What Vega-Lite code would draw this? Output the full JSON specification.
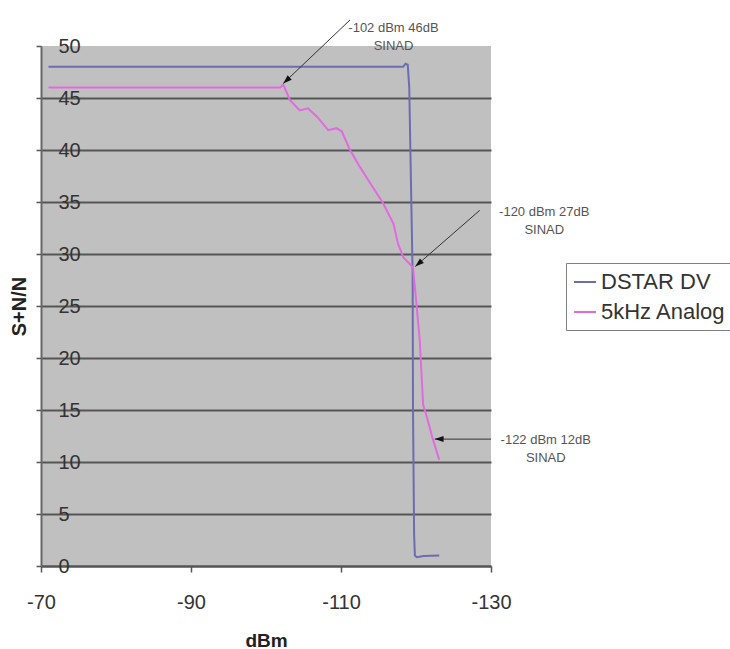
{
  "$schema": "https://vega.github.io/schema/vega-lite/v6.json",
  "width": 450,
  "height": 520,
  "autosize": {"type": "none"},
  "padding": {"left": 41, "top": 46, "right": 239, "bottom": 83},
  "background": "white",
  "config": {
    "font": "Liberation Sans",
    "view": {"fill": "#c0c0c0", "stroke": null}
  },
  "datasets": {
    "curves": [
      {"series": "DSTAR DV", "dBm": -71.0, "snn": 48.0},
      {"series": "DSTAR DV", "dBm": -118.3, "snn": 48.0},
      {"series": "DSTAR DV", "dBm": -118.6, "snn": 48.3},
      {"series": "DSTAR DV", "dBm": -118.9, "snn": 48.2},
      {"series": "DSTAR DV", "dBm": -119.1, "snn": 46.0},
      {"series": "DSTAR DV", "dBm": -119.35, "snn": 36.0},
      {"series": "DSTAR DV", "dBm": -119.55, "snn": 28.0},
      {"series": "DSTAR DV", "dBm": -119.6, "snn": 15.0},
      {"series": "DSTAR DV", "dBm": -119.75, "snn": 3.0},
      {"series": "DSTAR DV", "dBm": -119.85, "snn": 1.0},
      {"series": "DSTAR DV", "dBm": -120.1, "snn": 0.85},
      {"series": "DSTAR DV", "dBm": -121.0, "snn": 0.95},
      {"series": "DSTAR DV", "dBm": -123.1, "snn": 1.0},
      {"series": "5kHz Analog", "dBm": -71.0, "snn": 46.0},
      {"series": "5kHz Analog", "dBm": -101.9, "snn": 46.0},
      {"series": "5kHz Analog", "dBm": -102.3, "snn": 46.3},
      {"series": "5kHz Analog", "dBm": -103.2, "snn": 44.8},
      {"series": "5kHz Analog", "dBm": -104.5, "snn": 43.8},
      {"series": "5kHz Analog", "dBm": -105.6, "snn": 44.0},
      {"series": "5kHz Analog", "dBm": -106.8, "snn": 43.2},
      {"series": "5kHz Analog", "dBm": -108.3, "snn": 41.9},
      {"series": "5kHz Analog", "dBm": -109.4, "snn": 42.1},
      {"series": "5kHz Analog", "dBm": -110.1, "snn": 41.8},
      {"series": "5kHz Analog", "dBm": -111.2, "snn": 40.0},
      {"series": "5kHz Analog", "dBm": -112.5, "snn": 38.4},
      {"series": "5kHz Analog", "dBm": -113.9, "snn": 36.8},
      {"series": "5kHz Analog", "dBm": -115.6, "snn": 34.9},
      {"series": "5kHz Analog", "dBm": -117.0, "snn": 32.9},
      {"series": "5kHz Analog", "dBm": -117.6, "snn": 31.0},
      {"series": "5kHz Analog", "dBm": -118.3, "snn": 29.7},
      {"series": "5kHz Analog", "dBm": -119.6, "snn": 28.7},
      {"series": "5kHz Analog", "dBm": -120.1, "snn": 24.9},
      {"series": "5kHz Analog", "dBm": -120.5, "snn": 21.7},
      {"series": "5kHz Analog", "dBm": -120.8, "snn": 17.6},
      {"series": "5kHz Analog", "dBm": -120.95, "snn": 15.5},
      {"series": "5kHz Analog", "dBm": -121.5, "snn": 14.2},
      {"series": "5kHz Analog", "dBm": -122.2, "snn": 12.3},
      {"series": "5kHz Analog", "dBm": -123.1, "snn": 10.2}
    ],
    "notes": [
      {"id": 1, "label": "-102 dBm 46dB\nSINAD", "textX": -117.0, "textY": 51.7, "tailX": -111.2, "tailY": 52.5, "tipX": -102.3, "tipY": 46.4},
      {"id": 2, "label": "-120 dBm 27dB\nSINAD", "textX": -137.1, "textY": 34.0, "tailX": -128.5, "tailY": 34.2, "tipX": -119.9, "tipY": 28.8},
      {"id": 3, "label": "-122 dBm 12dB\nSINAD", "textX": -137.3, "textY": 12.1, "tailX": -130.0, "tailY": 12.2, "tipX": -122.5, "tipY": 12.2}
    ]
  },
  "layer": [
    {
      "data": {"name": "curves"},
      "mark": {"type": "line", "strokeWidth": 2},
      "encoding": {
        "x": {
          "field": "dBm", "type": "quantitative",
          "scale": {"domain": [-70, -130], "nice": false, "zero": false},
          "axis": {
            "title": "dBm", "values": [-70, -90, -110, -130], "grid": false,
            "labelExpr": "'' + datum.value",
            "domainColor": "#555", "domainWidth": 2,
            "tickColor": "#555", "tickWidth": 1.5, "tickSize": 6,
            "labelFontSize": 20, "labelColor": "#333", "labelPadding": 20,
            "labelFlush": false, "labelOverlap": false,
            "titleFontSize": 19, "titleFontWeight": "bold", "titleColor": "#222",
            "titleX": 225, "titleY": 74, "titleBaseline": "middle", "titleAlign": "center"
          }
        },
        "y": {
          "field": "snn", "type": "quantitative",
          "scale": {"domain": [0, 50], "nice": false, "zero": false},
          "axis": {
            "title": "S+N/N", "values": [0, 5, 10, 15, 20, 25, 30, 35, 40, 45, 50],
            "grid": true, "gridColor": "#555", "gridWidth": 2,
            "gridOpacity": {"condition": {"test": "datum.value == 50", "value": 0}, "value": 1},
            "domainColor": "#666", "domainWidth": 2,
            "tickColor": "#555", "tickSize": 5, "tickWidth": 1.5,
            "labelAlign": "left", "labelPadding": -22, "labelFontSize": 20, "labelColor": "#333",
            "labelFlush": false, "labelOverlap": false,
            "titleFontSize": 20, "titleFontWeight": "bold", "titleColor": "#222",
            "titleX": -22, "titleY": 260, "titleAngle": -90, "titleAlign": "center", "titleBaseline": "middle"
          }
        },
        "color": {
          "field": "series", "type": "nominal",
          "scale": {"domain": ["DSTAR DV", "5kHz Analog"], "range": ["#6c6cb0", "#e26ae0"]},
          "legend": {
            "title": null, "orient": "none", "legendX": 525, "legendY": 217,
            "strokeColor": "#808080", "fillColor": "#ffffff", "padding": 7,
            "symbolType": "stroke", "symbolSize": 484, "symbolStrokeWidth": 2,
            "labelFontSize": 22, "labelColor": "#333", "labelOffset": 4,
            "rowPadding": 7, "labelLimit": 300
          }
        }
      }
    },
    {
      "data": {"name": "notes"},
      "mark": {"type": "rule", "color": "#333", "strokeWidth": 1},
      "encoding": {
        "x": {"field": "tailX", "type": "quantitative", "scale": {"domain": [-70, -130], "nice": false, "zero": false}, "axis": {"title": "dBm"}},
        "y": {"field": "tailY", "type": "quantitative", "scale": {"domain": [0, 50], "nice": false, "zero": false}, "axis": {"title": "S+N/N"}},
        "x2": {"field": "tipX"},
        "y2": {"field": "tipY"}
      }
    },
    {
      "data": {"name": "notes"},
      "transform": [{"filter": "datum.id == 1"}],
      "mark": {"type": "point", "shape": "M0,0L-0.75,2.2L0.75,2.2Z", "size": 64, "angle": 227, "filled": true, "color": "#111", "opacity": 1},
      "encoding": {
        "x": {"field": "tipX", "type": "quantitative", "scale": {"domain": [-70, -130], "nice": false, "zero": false}, "axis": {"title": "dBm"}},
        "y": {"field": "tipY", "type": "quantitative", "scale": {"domain": [0, 50], "nice": false, "zero": false}, "axis": {"title": "S+N/N"}}
      }
    },
    {
      "data": {"name": "notes"},
      "transform": [{"filter": "datum.id == 2"}],
      "mark": {"type": "point", "shape": "M0,0L-0.75,2.2L0.75,2.2Z", "size": 64, "angle": 229, "filled": true, "color": "#111", "opacity": 1},
      "encoding": {
        "x": {"field": "tipX", "type": "quantitative", "scale": {"domain": [-70, -130], "nice": false, "zero": false}, "axis": {"title": "dBm"}},
        "y": {"field": "tipY", "type": "quantitative", "scale": {"domain": [0, 50], "nice": false, "zero": false}, "axis": {"title": "S+N/N"}}
      }
    },
    {
      "data": {"name": "notes"},
      "transform": [{"filter": "datum.id == 3"}],
      "mark": {"type": "point", "shape": "M0,0L-0.75,2.2L0.75,2.2Z", "size": 64, "angle": 270, "filled": true, "color": "#111", "opacity": 1},
      "encoding": {
        "x": {"field": "tipX", "type": "quantitative", "scale": {"domain": [-70, -130], "nice": false, "zero": false}, "axis": {"title": "dBm"}},
        "y": {"field": "tipY", "type": "quantitative", "scale": {"domain": [0, 50], "nice": false, "zero": false}, "axis": {"title": "S+N/N"}}
      }
    },
    {
      "data": {"name": "notes"},
      "mark": {"type": "text", "lineBreak": "\n", "fontSize": 13, "color": "#555", "lineHeight": 18, "align": "center", "baseline": "middle"},
      "encoding": {
        "x": {"field": "textX", "type": "quantitative", "scale": {"domain": [-70, -130], "nice": false, "zero": false}, "axis": {"title": "dBm"}},
        "y": {"field": "textY", "type": "quantitative", "scale": {"domain": [0, 50], "nice": false, "zero": false}, "axis": {"title": "S+N/N"}},
        "text": {"field": "label"}
      }
    }
  ]
}
